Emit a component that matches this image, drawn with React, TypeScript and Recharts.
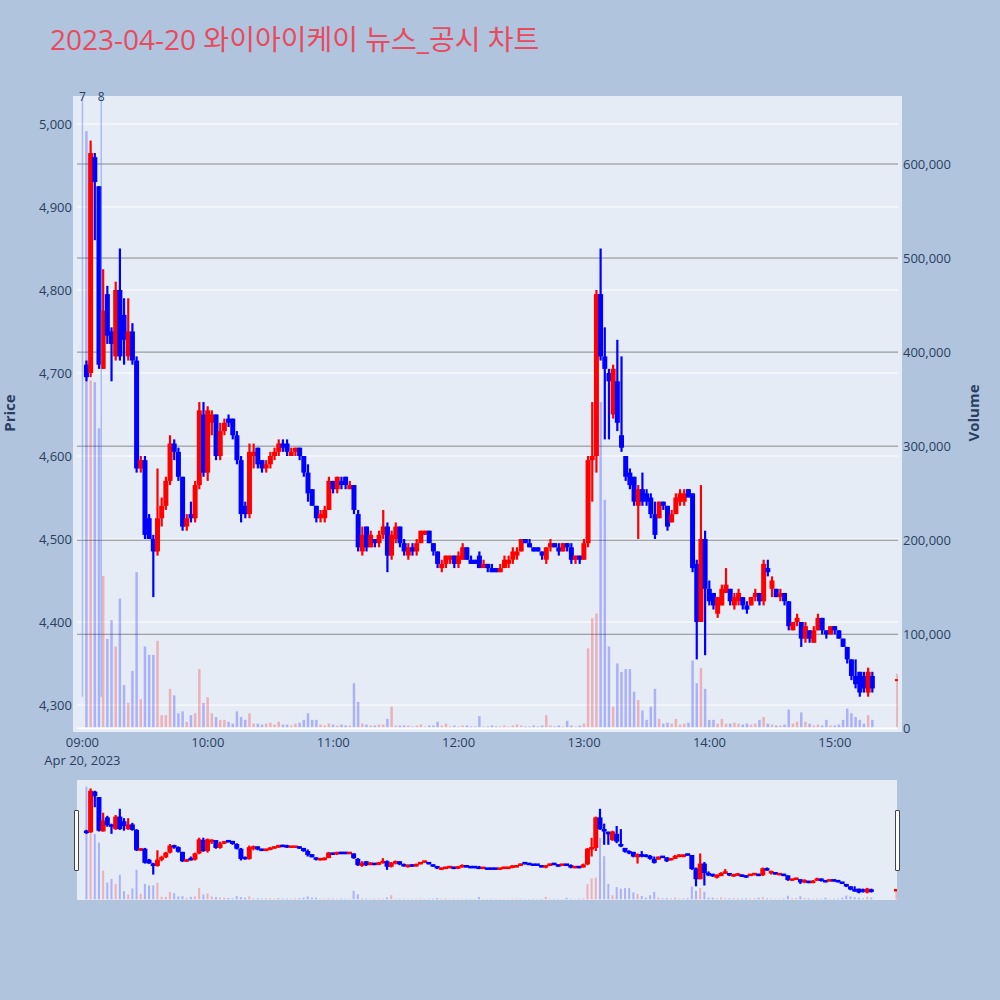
import React from 'react';
import { ComposedChart, Bar, XAxis, YAxis, CartesianGrid, ReferenceLine } from 'recharts';

// 2023-04-20 intraday, 2-minute candles. Time = minutes after 09:00 (last minute of the candle).
// 390 = 15:30 closing auction.
const times = [
  2, 4, 6, 8, 10, 12, 14, 16, 18, 20,
  22, 24, 26, 28, 30, 32, 34, 36, 38, 40,
  42, 44, 46, 48, 50, 52, 54, 56, 58, 60,
  62, 64, 66, 68, 70, 72, 74, 76, 78, 80,
  82, 84, 86, 88, 90, 92, 94, 96, 98, 100,
  102, 104, 106, 108, 110, 112, 114, 116, 118, 120,
  122, 124, 126, 128, 130, 132, 134, 136, 138, 140,
  142, 144, 146, 148, 150, 152, 154, 156, 158, 160,
  162, 164, 166, 168, 170, 172, 174, 176, 178, 180,
  182, 184, 186, 188, 190, 192, 194, 196, 198, 200,
  202, 204, 206, 208, 210, 212, 214, 216, 218, 220,
  222, 224, 226, 228, 230, 232, 234, 236, 238, 240,
  242, 244, 246, 248, 250, 252, 254, 256, 258, 260,
  262, 264, 266, 268, 270, 272, 274, 276, 278, 280,
  282, 284, 286, 288, 290, 292, 294, 296, 298, 300,
  302, 304, 306, 308, 310, 312, 314, 316, 318, 320,
  322, 324, 326, 328, 330, 332, 334, 336, 338, 340,
  342, 344, 346, 348, 350, 352, 354, 356, 358, 360,
  362, 364, 366, 368, 370, 372, 374, 376, 378, 390,
];

const opens = [
  4710, 4700, 4960, 4925, 4705, 4795, 4750, 4720, 4800, 4770,
  4720, 4750, 4715, 4585, 4595, 4525, 4500, 4485, 4525, 4540,
  4570, 4615, 4605, 4575, 4515, 4530, 4525, 4565, 4650, 4580,
  4640, 4650, 4600, 4630, 4645, 4645, 4625, 4595, 4540, 4530,
  4600, 4610, 4595, 4585, 4590, 4600, 4605, 4615, 4615, 4600,
  4605, 4610, 4600, 4580, 4560, 4540, 4525, 4525, 4535, 4570,
  4560, 4570, 4575, 4560, 4565, 4530, 4485, 4515, 4490, 4500,
  4495, 4505, 4515, 4480, 4500, 4515, 4495, 4480, 4490, 4485,
  4495, 4505, 4510, 4495, 4485, 4465, 4470, 4475, 4480, 4470,
  4475, 4490, 4475, 4475, 4480, 4465, 4470, 4465, 4465, 4460,
  4465, 4470, 4475, 4480, 4485, 4500, 4495, 4490, 4490, 4485,
  4475, 4490, 4495, 4490, 4485, 4495, 4490, 4475, 4480, 4475,
  4495, 4595, 4600, 4795, 4720, 4700, 4650, 4690, 4625, 4600,
  4580, 4575, 4540, 4560, 4555, 4550, 4530, 4525, 4545, 4540,
  4520, 4530, 4545, 4545, 4560, 4555, 4470, 4400, 4500, 4440,
  4435, 4410, 4420, 4435, 4440, 4420, 4425, 4430, 4420, 4420,
  4430, 4435, 4425, 4465, 4440, 4440, 4430, 4435, 4425, 4390,
  4400, 4400, 4380, 4390, 4375, 4390, 4405, 4390, 4385, 4395,
  4390, 4380, 4370, 4355, 4335, 4340, 4335, 4315, 4335, 4330,
];

const highs = [
  4715, 4980, 4965, 4925, 4825, 4805, 4755, 4810, 4850, 4790,
  4790, 4760, 4720, 4600, 4600, 4530, 4505, 4585, 4550, 4575,
  4625, 4620, 4610, 4575, 4530, 4545, 4570, 4665, 4665, 4660,
  4655, 4650, 4640, 4645, 4650, 4645, 4630, 4600, 4545, 4615,
  4615, 4610, 4595, 4595, 4605, 4610, 4620, 4620, 4620, 4610,
  4610, 4610, 4600, 4590, 4560, 4540, 4535, 4540, 4575, 4570,
  4575, 4575, 4575, 4570, 4565, 4535, 4515, 4515, 4510, 4500,
  4510, 4535, 4520, 4510, 4520, 4515, 4500, 4495, 4495, 4500,
  4510, 4510, 4510, 4495, 4485, 4475, 4480, 4480, 4480, 4485,
  4495, 4490, 4480, 4475, 4485, 4475, 4470, 4470, 4465, 4470,
  4480, 4480, 4490, 4490, 4500, 4500, 4500, 4490, 4490, 4485,
  4490, 4500, 4495, 4495, 4495, 4495, 4495, 4480, 4480, 4500,
  4600, 4665, 4800, 4850, 4755, 4705, 4710, 4740, 4720, 4600,
  4585, 4575, 4565, 4580, 4560, 4555, 4545, 4545, 4545, 4540,
  4535, 4555, 4560, 4560, 4560, 4555, 4475, 4565, 4510, 4450,
  4435, 4430, 4445, 4465, 4440, 4435, 4440, 4430, 4425, 4430,
  4440, 4435, 4475, 4475, 4455, 4440, 4440, 4435, 4425, 4400,
  4410, 4400, 4400, 4390, 4395, 4410, 4405, 4390, 4395, 4395,
  4390, 4380, 4370, 4355, 4355, 4340, 4340, 4345, 4340, 4330,
];

const lows = [
  4690, 4695, 4860, 4705, 4705, 4735, 4690, 4715, 4715, 4710,
  4715, 4710, 4580, 4580, 4500, 4500, 4430, 4480, 4515, 4535,
  4565, 4595, 4570, 4510, 4510, 4520, 4520, 4560, 4575, 4570,
  4625, 4595, 4595, 4625, 4635, 4620, 4590, 4520, 4525, 4525,
  4585, 4585, 4580, 4580, 4585, 4595, 4600, 4605, 4600, 4600,
  4600, 4595, 4575, 4545, 4540, 4520, 4520, 4520, 4535, 4555,
  4555, 4560, 4560, 4560, 4530, 4485, 4480, 4485, 4490, 4490,
  4490, 4500, 4460, 4475, 4495, 4490, 4480, 4475, 4480, 4480,
  4495, 4505, 4495, 4480, 4465, 4460, 4465, 4470, 4465, 4465,
  4475, 4475, 4470, 4470, 4465, 4465, 4460, 4460, 4460, 4460,
  4465, 4465, 4470, 4475, 4485, 4495, 4490, 4485, 4485, 4475,
  4470, 4485, 4490, 4480, 4485, 4485, 4470, 4470, 4470, 4475,
  4490, 4545, 4580, 4715, 4620, 4620, 4645, 4630, 4605, 4570,
  4560, 4540, 4500, 4540, 4540, 4525, 4500, 4525, 4535, 4510,
  4520, 4530, 4540, 4540, 4550, 4460, 4355, 4400, 4360, 4420,
  4415, 4405, 4420, 4435, 4420, 4415, 4420, 4415, 4410, 4420,
  4425, 4420, 4420, 4455, 4430, 4430, 4425, 4420, 4390, 4390,
  4395, 4370, 4375, 4375, 4375, 4390, 4385, 4380, 4385, 4385,
  4380, 4370, 4350, 4330, 4320, 4310, 4315, 4310, 4315, 4330,
];

const closes = [
  4695, 4965, 4930, 4710, 4775, 4745, 4735, 4800, 4720, 4740,
  4750, 4715, 4585, 4595, 4505, 4500, 4485, 4525, 4540, 4570,
  4615, 4605, 4575, 4515, 4525, 4525, 4565, 4655, 4580, 4655,
  4650, 4600, 4630, 4640, 4640, 4625, 4595, 4530, 4530, 4605,
  4605, 4590, 4585, 4590, 4600, 4605, 4615, 4610, 4605, 4605,
  4610, 4600, 4580, 4555, 4540, 4525, 4530, 4535, 4570, 4560,
  4575, 4565, 4565, 4565, 4535, 4490, 4505, 4490, 4505, 4495,
  4505, 4515, 4480, 4505, 4515, 4495, 4485, 4490, 4485, 4495,
  4510, 4510, 4495, 4485, 4470, 4470, 4480, 4480, 4470, 4480,
  4490, 4475, 4470, 4470, 4465, 4470, 4465, 4460, 4460, 4465,
  4475, 4475, 4485, 4485, 4500, 4495, 4490, 4485, 4485, 4480,
  4490, 4495, 4490, 4485, 4495, 4490, 4475, 4480, 4475, 4495,
  4595, 4600, 4795, 4720, 4705, 4690, 4705, 4640, 4610, 4575,
  4565, 4545, 4560, 4545, 4545, 4530, 4505, 4545, 4540, 4515,
  4530, 4550, 4555, 4555, 4550, 4465, 4400, 4500, 4440, 4425,
  4420, 4430, 4440, 4445, 4425, 4430, 4435, 4420, 4415, 4430,
  4435, 4425, 4470, 4460, 4450, 4430, 4435, 4425, 4395, 4400,
  4405, 4380, 4395, 4380, 4390, 4405, 4390, 4385, 4395, 4390,
  4380, 4370, 4355, 4335, 4325, 4315, 4320, 4340, 4320, 4330,
];

const volumes = [
  635000, 370000, 368000, 319000, 162000, 95000, 115000, 87000, 138000, 46000,
  27000, 61000, 166000, 31000, 87000, 78000, 78000, 93000, 14000, 14000,
  42000, 35000, 16000, 18000, 7000, 14000, 16000, 63000, 27000, 33000,
  16000, 12000, 9000, 9000, 7000, 5000, 18000, 12000, 9000, 16000,
  5000, 5000, 4000, 5000, 6000, 4000, 7000, 4000, 4000, 3000,
  5000, 6000, 9000, 16000, 9000, 9000, 4000, 3000, 5000, 4000,
  3000, 4000, 3000, 3000, 48000, 28000, 5000, 4000, 3000, 3000,
  4000, 4000, 10000, 23000, 3000, 3000, 3000, 3000, 2000, 3000,
  4000, 2000, 3000, 3000, 7000, 3000, 5000, 2000, 3000, 2000,
  3000, 3000, 2000, 2000, 13000, 2000, 2000, 3000, 2000, 2000,
  3000, 2000, 3000, 4000, 3000, 2000, 2000, 3000, 2000, 3000,
  14000, 3000, 2000, 3000, 2000, 8000, 3000, 2000, 3000, 5000,
  85000, 117000, 122000, 347000, 243000, 87000, 23000, 69000, 60000, 63000,
  63000, 39000, 30000, 19000, 9000, 23000, 42000, 10000, 5000, 6000,
  5000, 10000, 4000, 5000, 6000, 72000, 48000, 64000, 42000, 9000,
  9000, 5000, 10000, 5000, 5000, 6000, 5000, 4000, 5000, 4000,
  5000, 9000, 12000, 5000, 4000, 3000, 3000, 4000, 20000, 5000,
  7000, 17000, 7000, 5000, 3000, 4000, 3000, 9000, 3000, 3000,
  4000, 9000, 21000, 16000, 12000, 9000, 5000, 14000, 9000, 58000,
];

const priceTicks = [4300, 4400, 4500, 4600, 4700, 4800, 4900, 5000];
const volumeTicks = [0, 100000, 200000, 300000, 400000, 500000, 600000];
const hourTicks = [0, 60, 120, 180, 240, 300, 360];

// news markers (minute after 09:00, label), drawn from the day's low upward
const newsMinutes = [0, 9];
const newsLabels = ['7', '8'];
const newsFloor = 4310;

const titleText = '2023-04-20 와이아이케이 뉴스_공시 차트';
const dateLabel = 'Apr 20, 2023';

const FONT = "'Open Sans', 'Noto Sans CJK KR', sans-serif";
const INK = '#2a3f5f';
const UP = '#ff0000';
const DOWN = '#0000ff';

const X_DOMAIN: [number, number] = [-2.6, 390.2];
const PRICE_DOMAIN: [number, number] = [4267.5, 5033.7];
const VOLUME_DOMAIN: [number, number] = [-3900, 672300];

const rows = times.map((t, i) => ({
  t,
  o: opens[i],
  h: highs[i],
  l: lows[i],
  c: closes[i],
  v: volumes[i],
  range: [lows[i], highs[i]],
}));

const fmtNum = (n: number) => n.toLocaleString('en-US');
const fmtTime = (m: number) => {
  const hh = 9 + Math.floor(m / 60);
  const mm = m % 60;
  return `${String(hh).padStart(2, '0')}:${String(mm).padStart(2, '0')}`;
};

// candle drawn inside the [low, high] bar box that recharts computes
const makeCandle = (bodyW: number, wick: number, minBody: number) => (props: any) => {
  const { x, y, width, height, payload } = props;
  if (!payload || x == null || y == null) return <g />;
  const color = payload.c >= payload.o ? UP : DOWN;
  const top = Math.min(y, y + (height || 0));
  const h = Math.abs(height || 0);
  const cx = x + (width || 0) / 2;
  const bx = cx - bodyW / 2;
  const span = payload.h - payload.l;
  if (!span) {
    return <rect x={bx} y={top - minBody / 2} width={bodyW} height={minBody} fill={color} />;
  }
  const k = h / span;
  const yOpen = top + (payload.h - payload.o) * k;
  const yClose = top + (payload.h - payload.c) * k;
  const bodyH = Math.max(Math.abs(yOpen - yClose), minBody);
  const bodyTop = Math.min(Math.max((yOpen + yClose) / 2 - bodyH / 2, top), top + h - bodyH);
  return (
    <g>
      <line x1={cx} x2={cx} y1={top} y2={top + h} stroke={color} strokeWidth={wick} />
      <rect x={bx} y={bodyTop} width={bodyW} height={bodyH} fill={color} />
    </g>
  );
};

const mainCandle = makeCandle(5, 2.2, 2);
const sliderCandle = makeCandle(5, 2.2, 2.5);

const makeVolume = (barW: number) => (props: any) => {
  const { x, y, width, height, payload } = props;
  if (!payload || x == null || y == null) return <g />;
  const color = payload.c >= payload.o ? UP : DOWN;
  const cx = x + (width || 0) / 2;
  return (
    <rect
      x={cx - barW / 2}
      y={Math.min(y, y + height)}
      width={barW}
      height={Math.abs(height)}
      fill={color}
      fillOpacity={0.25}
    />
  );
};

const mainVolume = makeVolume(2.5);
const sliderVolume = makeVolume(2);

const TimeTick = (props: any) => {
  const { x, y, payload } = props;
  return (
    <g>
      <text x={x} y={y + 15} textAnchor="middle" fill={INK} fontSize={13} fontFamily={FONT}>
        {fmtTime(payload.value)}
      </text>
      {payload.value === hourTicks[0] && (
        <text x={x} y={y + 33} textAnchor="middle" fill={INK} fontSize={13} fontFamily={FONT}>
          {dateLabel}
        </text>
      )}
    </g>
  );
};

const newsLabel = (text: string) => (props: any) => {
  const vb = props.viewBox || {};
  if (vb.x == null) return null;
  return (
    <text x={vb.x} y={(vb.y || 0) + 5} textAnchor="middle" fill={INK} fontSize={12} fontFamily={FONT}>
      {text}
    </text>
  );
};

const tickStyle = { fill: INK, fontSize: 13, fontFamily: FONT };

export default function App() {
  return (
    <div
      style={{
        position: 'absolute',
        left: 0,
        top: 0,
        width: 1000,
        height: 1000,
        background: '#b0c4de',
        overflow: 'hidden',
        fontFamily: FONT,
      }}
    >
      {/* plot backgrounds */}
      <div style={{ position: 'absolute', left: 73, top: 96, width: 829, height: 636, background: '#e5ecf6' }} />
      <div style={{ position: 'absolute', left: 77, top: 780, width: 820, height: 120, background: '#e5ecf6' }} />

      {/* main chart */}
      <div style={{ position: 'absolute', left: 0, top: 0 }}>
        <ComposedChart width={1000} height={800} data={rows} margin={{ top: 96, right: 0, bottom: 28, left: 0 }}>
          <XAxis
            xAxisId="p"
            dataKey="t"
            type="number"
            domain={X_DOMAIN}
            ticks={hourTicks}
            interval={0}
            tick={<TimeTick />}
            tickSize={0}
            tickMargin={0}
            axisLine={false}
            tickLine={false}
            height={40}
            allowDataOverflow
          />
          <XAxis xAxisId="v" dataKey="t" type="number" domain={X_DOMAIN} hide allowDataOverflow />
          <YAxis
            yAxisId="price"
            orientation="left"
            width={77}
            domain={PRICE_DOMAIN}
            ticks={priceTicks}
            interval={0}
            tickFormatter={fmtNum}
            tick={tickStyle}
            axisLine={false}
            tickLine={false}
            tickSize={0}
            tickMargin={5}
            allowDataOverflow
          />
          <YAxis
            yAxisId="vol"
            orientation="right"
            width={102}
            domain={VOLUME_DOMAIN}
            ticks={volumeTicks}
            interval={0}
            tickFormatter={fmtNum}
            tick={tickStyle}
            axisLine={false}
            tickLine={false}
            tickSize={0}
            tickMargin={5}
            allowDataOverflow
          />
          <CartesianGrid xAxisId="p" yAxisId="price" vertical={false} syncWithTicks stroke="#ffffff" strokeWidth={1} />
          <CartesianGrid xAxisId="p" yAxisId="vol" vertical={false} syncWithTicks stroke="#8a8a8a" strokeWidth={1} />
          <ReferenceLine xAxisId="v" yAxisId="vol" y={0} stroke="#ffffff" strokeWidth={2} />
          {newsMinutes.map((m, i) => (
            <ReferenceLine
              key={`news-${i}`}
              xAxisId="p"
              yAxisId="price"
              segment={[
                { x: m, y: newsFloor },
                { x: m, y: PRICE_DOMAIN[1] },
              ]}
              stroke="rgba(90,130,240,0.45)"
              strokeWidth={1.5}
              ifOverflow="visible"
              label={newsLabel(newsLabels[i])}
            />
          ))}
          <Bar xAxisId="v" yAxisId="vol" dataKey="v" shape={mainVolume} isAnimationActive={false} />
          <Bar xAxisId="p" yAxisId="price" dataKey="range" shape={mainCandle} isAnimationActive={false} />
        </ComposedChart>
      </div>

      {/* range slider preview */}
      <div style={{ position: 'absolute', left: 77, top: 780 }}>
        <ComposedChart width={820} height={120} data={rows} margin={{ top: 0, right: 0, bottom: 0, left: 0 }}>
          <XAxis xAxisId="p" dataKey="t" type="number" domain={X_DOMAIN} hide allowDataOverflow />
          <XAxis xAxisId="v" dataKey="t" type="number" domain={X_DOMAIN} hide allowDataOverflow />
          <YAxis yAxisId="price" domain={PRICE_DOMAIN} hide allowDataOverflow />
          <YAxis yAxisId="vol" domain={VOLUME_DOMAIN} hide allowDataOverflow />
          <Bar xAxisId="v" yAxisId="vol" dataKey="v" shape={sliderVolume} isAnimationActive={false} />
          <Bar xAxisId="p" yAxisId="price" dataKey="range" shape={sliderCandle} isAnimationActive={false} />
        </ComposedChart>
      </div>

      {/* slider grabbers */}
      <div style={{ position: 'absolute', left: 74, top: 810, width: 3, height: 59, background: '#fff', border: '1px solid #444', borderRadius: 1 }} />
      <div style={{ position: 'absolute', left: 895, top: 810, width: 3, height: 59, background: '#fff', border: '1px solid #444', borderRadius: 1 }} />

      {/* title and axis titles */}
      <svg width={1000} height={1000} style={{ position: 'absolute', left: 0, top: 0, pointerEvents: 'none' }}>
        <text x={50} y={50} fill="#e84a5f" fontSize={28} fontFamily={FONT}>
          {titleText}
        </text>
        <text
          transform="translate(9,413) rotate(-90)"
          textAnchor="middle"
          dominantBaseline="central"
          fill={INK}
          fontSize={15}
          fontWeight="bold"
          fontFamily={FONT}
        >
          Price
        </text>
        <text
          transform="translate(973,413) rotate(-90)"
          textAnchor="middle"
          dominantBaseline="central"
          fill={INK}
          fontSize={15}
          fontWeight="bold"
          fontFamily={FONT}
        >
          Volume
        </text>
      </svg>
    </div>
  );
}
